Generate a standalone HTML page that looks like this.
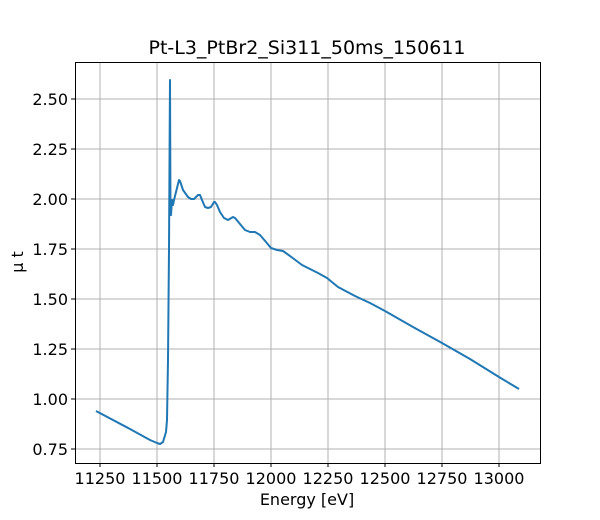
<!DOCTYPE html>
<html><head><style>body{margin:0;background:#fff}svg{display:block}</style></head><body>
<svg width="600" height="520" xmlns="http://www.w3.org/2000/svg" font-family="DejaVu Sans, Liberation Sans, sans-serif">
<rect width="600" height="520" fill="#fff"/>
<g stroke="#b0b0b0" stroke-width="1">
<line x1="100" y1="62" x2="100" y2="463"/><line x1="157" y1="62" x2="157" y2="463"/><line x1="214" y1="62" x2="214" y2="463"/><line x1="271" y1="62" x2="271" y2="463"/><line x1="328" y1="62" x2="328" y2="463"/><line x1="385" y1="62" x2="385" y2="463"/><line x1="442" y1="62" x2="442" y2="463"/><line x1="499" y1="62" x2="499" y2="463"/>
<line x1="75" y1="99" x2="540" y2="99"/><line x1="75" y1="149" x2="540" y2="149"/><line x1="75" y1="199" x2="540" y2="199"/><line x1="75" y1="249" x2="540" y2="249"/><line x1="75" y1="299" x2="540" y2="299"/><line x1="75" y1="349" x2="540" y2="349"/><line x1="75" y1="399" x2="540" y2="399"/><line x1="75" y1="449" x2="540" y2="449"/>
</g>
<polyline fill="none" stroke="#1f77b4" stroke-width="2" stroke-linejoin="round" points="96,411 130,429 150,440 157,443 160,444 163,442 166,432 167,420 168,360 169,250 170,80 170.5,215 171,215 172,200 173,205 174,200 177,188 179,180 180,181 183,190 188,197 191,199 194,199 198,195 200,195 202,200 205,207 208,208 211,207 214,202 215,202 217,205 220,212 224,218 228,220 233,217 235,218 240,224 245,230 250,232 255,232 260,235 266,242 271,248 277,250 283,251 290,256 302,265 318,273 327,278 338,287 355,296 370,303 385,311 413,327 442,343 470,359 499,377 519,389"/>
<rect x="75.5" y="62.5" width="465" height="401" fill="none" stroke="#000" stroke-width="1"/>
<g stroke="#000" stroke-width="1">
<line x1="100" y1="463" x2="100" y2="467"/><line x1="157" y1="463" x2="157" y2="467"/><line x1="214" y1="463" x2="214" y2="467"/><line x1="271" y1="463" x2="271" y2="467"/><line x1="328" y1="463" x2="328" y2="467"/><line x1="385" y1="463" x2="385" y2="467"/><line x1="442" y1="463" x2="442" y2="467"/><line x1="499" y1="463" x2="499" y2="467"/>
<line x1="71" y1="99" x2="75" y2="99"/><line x1="71" y1="149" x2="75" y2="149"/><line x1="71" y1="199" x2="75" y2="199"/><line x1="71" y1="249" x2="75" y2="249"/><line x1="71" y1="299" x2="75" y2="299"/><line x1="71" y1="349" x2="75" y2="349"/><line x1="71" y1="399" x2="75" y2="399"/><line x1="71" y1="449" x2="75" y2="449"/>
</g>
<g font-size="16" fill="#000" text-anchor="middle">
<text x="100" y="484">11250</text><text x="157" y="484">11500</text><text x="214" y="484">11750</text><text x="271" y="484">12000</text><text x="328" y="484">12250</text><text x="385" y="484">12500</text><text x="442" y="484">12750</text><text x="499" y="484">13000</text>
</g>
<g font-size="16" fill="#000" text-anchor="end">
<text x="68" y="105">2.50</text><text x="68" y="155">2.25</text><text x="68" y="205">2.00</text><text x="68" y="255">1.75</text><text x="68" y="305">1.50</text><text x="68" y="355">1.25</text><text x="68" y="405">1.00</text><text x="68" y="455">0.75</text>
</g>
<text x="307" y="505" font-size="16" text-anchor="middle">Energy [eV]</text>
<text x="23" y="262" font-size="16" text-anchor="middle" transform="rotate(-90 23 262)">μ t</text>
<text x="307" y="54" font-size="19" text-anchor="middle">Pt-L3_PtBr2_Si311_50ms_150611</text>
</svg>
</body></html>
